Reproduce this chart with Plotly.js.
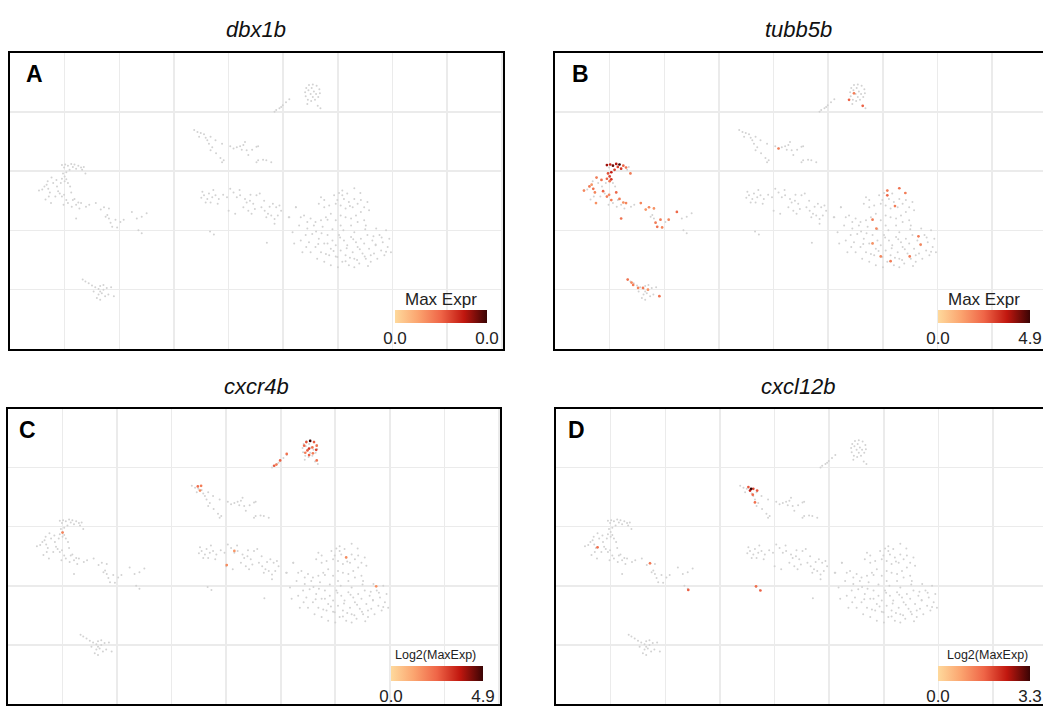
<!DOCTYPE html>
<html><head><meta charset="utf-8">
<script src="https://cdn.plot.ly/plotly-3.0.1.min.js"></script>
<style>html,body{margin:0;padding:0;overflow:hidden;background:#fff}#chart{width:1050px;height:706px}</style>
</head><body><div id="chart"></div>
<script>
// ---- cell embedding (tSNE-like coordinates) ----
const loopX = [4.0,4.2,4.7,5.4,6.1,6.6,6.7,6.4,5.8,5.1,4.5,4.1,5.0,5.6,5.2,6.0,4.6,5.4,4.4,6.3,6.8,-1.3,-0.7,-0.1,-0.4,1.1,0.5,-1.6];
const loopY = [23.3,24.0,24.5,24.6,24.4,23.8,23.1,22.5,22.0,21.8,22.0,22.6,23.0,23.4,24.0,23.0,23.6,22.5,21.3,21.0,20.6,20.3,20.6,21.1,20.8,22.1,21.6,20.0];
const streakX = [-16.3,-15.7,-15.1,-14.5,-15.4,-14.2,-13.9,-13.3,-13.6,-13.0,-13.3,-12.4,-11.2,-10.9,-11.2,-9.1,-8.5,-7.9,-7.3,-7.0,-7.6,-6.7,-6.4,-4.9,-4.6,-4.9,-4.6,-3.7,-3.1,-2.2,-12.3,-11.5,-9.7,-5.7];
const streakY = [16.9,16.6,16.4,16.2,15.8,15.6,15.2,15.8,14.6,14.0,13.5,15.2,14.6,11.8,11.5,13.8,14.0,14.2,14.4,14.9,13.6,13.5,12.7,14.1,14.2,11.5,11.8,11.9,11.8,11.5,13.0,12.2,14.2,13.6];
const leftX = [-40.5,-40.1,-39.9,-39.4,-38.8,-38.5,-38.2,-37.9,-37.5,-37.0,-36.5,-36.2,-39.1,-39.7,-40.3,-40.0,-40.5,-40.0,-40.7,-39.7,-39.4,-44.7,-43.7,-43.3,-43.0,-42.7,-43.1,-42.4,-42.1,-41.5,-42.5,-42.9,-41.2,-40.9,-40.5,-40.1,-39.7,-39.4,-38.8,-38.5,-38.2,-37.9,-37.5,-37.3,-37.0,-36.1,-37.9,-35.5,-34.3,-33.4,-32.8,-31.9,-32.2,-32.5,-31.9,-31.6,-31.3,-30.7,-30.4,-29.8,-29.2,-27.7,-26.8,-25.9,-25.0,-26.5,-25.9,-44.1,-43.5,-41.7,-41.4,-40.2,-38.7,-36.8,-39.0];
const leftY = [11.0,10.6,11.1,10.9,11.2,10.7,11.1,10.4,10.9,10.6,10.7,9.6,10.2,9.8,9.6,9.1,8.7,8.3,8.0,8.6,8.0,6.7,7.4,7.7,7.0,6.4,8.3,8.9,8.0,8.5,4.6,5.7,6.6,6.2,5.7,6.0,5.1,4.6,6.4,5.1,5.3,4.3,4.7,3.7,4.6,4.0,2.0,4.3,4.6,3.5,3.9,3.7,2.6,2.3,2.0,1.3,0.6,1.8,0.5,1.4,1.8,3.1,2.0,2.3,2.9,0.0,-0.5,6.9,5.2,5.7,7.4,4.3,4.0,10.2,7.4];
const lowLeftX = [-36.2,-35.6,-35.0,-34.4,-33.8,-33.5,-32.9,-33.2,-33.8,-34.1,-33.5,-32.6,-32.0,-31.0,-34.7,-32.9,-32.3,-33.5,-36.7,-31.5];
const lowLeftY = [-8.6,-8.9,-9.3,-9.6,-9.9,-9.4,-10.0,-10.6,-10.8,-11.4,-11.7,-11.1,-10.8,-11.1,-10.3,-9.2,-9.7,-10.3,-8.3,-9.6];
const midX = [-14.5,-13.9,-13.6,-13.0,-12.4,-14.2,-13.3,-11.8,-10.3,-9.7,-9.1,-8.5,-7.9,-7.0,-6.7,-6.1,-5.5,-4.9,-4.3,-7.3,-6.4,-5.2,-4.0,-3.4,-2.8,-1.9,-1.3,-0.7,-0.4,-1.0,-1.6,-2.2,-3.1,-1.6,-10.0,-8.8,1.1,2.3,3.2,-15.0,-14.8,-12.8,-11.0,-8.0,-6.0,-3.5,-2.5,-5.8,-12.0,-13.4,-12.7,-3.0];
const midY = [5.9,5.3,6.2,5.6,5.9,4.7,4.7,5.3,5.6,7.0,6.4,5.6,5.9,5.3,4.7,5.0,4.5,5.9,6.2,3.9,3.3,3.6,3.9,3.3,2.8,4.5,3.9,4.2,3.3,2.5,1.9,2.5,2.2,1.1,3.3,2.8,2.2,3.9,2.2,5.5,6.5,6.8,6.0,6.8,6.0,5.0,4.0,2.8,4.5,-0.2,-0.7,-2.1];
const bigX = [6.9,7.5,6.5,7.5,8.4,9.3,9.9,10.5,11.1,11.4,12.0,12.7,13.0,13.6,14.2,14.8,15.4,15.7,14.2,13.3,12.4,11.4,10.5,9.6,8.7,7.8,6.9,5.9,5.0,4.4,10.8,13.0,14.1,12.2,8.1,13.6,14.8,15.1,12.4,10.5,7.2,5.6,3.8,2.3,1.0,10.8,10.2,11.7,9.6,
  3.2,4.1,4.7,5.3,5.9,6.5,6.9,7.5,8.1,8.4,8.7,9.0,9.6,9.9,10.2,10.5,10.8,11.1,11.4,11.7,12.0,12.4,12.7,13.0,13.3,13.6,13.9,14.2,14.5,14.8,15.1,15.4,15.7,16.0,16.3,16.6,16.9,17.2,17.6,17.9,18.2,18.5,18.8,19.1,19.4,19.7,6.2,7.5,8.7,13.0,8.1,11.4,9.6,14.9,16.5,16.9,5.0,4.4,2.9,1.7,2.0,3.5,
  6.0,7.0,9.0,11.0,13.0,15.0,17.0,18.0,7.8,10.0,12.2,14.0,16.0,18.8,11.6,9.2,6.4,4.2,13.5,15.5,10.4,12.8];
const bigY = [5.6,5.1,4.5,3.9,4.2,5.9,5.1,4.2,5.3,3.7,4.8,3.9,5.3,4.5,5.1,3.9,4.8,3.4,3.1,2.5,2.0,2.2,2.5,1.7,2.8,2.2,1.7,1.4,2.0,1.4,5.9,7.1,6.3,4.1,1.8,1.4,1.7,0.8,0.8,0.8,0.6,0.8,2.5,3.9,2.2,6.7,6.3,6.2,4.5,
  -1.7,-0.8,-2.0,-0.6,-2.8,-1.4,-3.7,-2.2,-0.8,-4.2,-3.1,-1.7,-2.5,-4.5,-0.8,-3.4,-5.3,-1.7,-4.2,-2.5,-5.9,-1.1,-3.7,-4.8,-2.0,-2.8,-5.6,-1.4,-3.9,-2.2,-4.8,-0.8,-3.1,-5.3,-1.7,-3.9,-2.5,-4.8,-0.8,-3.4,-2.0,-4.2,0.0,-2.8,-1.4,-3.7,-4.8,-5.3,-5.9,-6.2,-2.2,-5.2,-4.4,-4.4,-1.0,-2.4,-3.7,0.3,0.8,-0.3,-2.2,-3.7,
  -0.2,-0.5,0.2,0.0,-0.3,0.2,0.3,-1.2,-4.0,-6.2,-4.6,-3.2,-4.2,-3.6,-3.0,-3.5,-2.3,-2.8,-5.0,-6.0,-1.2,-1.5];

// ---- expressing cells per gene ----
const dbx1bX = [], dbx1bY = [], dbx1bVal = [];
const tubb5bX = [4.7,3.8,6.3,-9.1,-40.5,-39.9,-39.4,-38.8,-38.5,-38.2,-37.9,-37.5,-37.0,-36.2,-39.1,-39.7,-40.3,-40.0,-40.5,-40.0,-39.7,-44.7,-43.7,-43.3,-43.0,-42.7,-42.4,-41.5,-42.5,-41.2,-40.5,-40.1,-39.7,-38.8,-38.2,-37.5,-37.0,-37.9,-34.3,-33.4,-32.8,-31.9,-31.6,-31.3,-30.4,-30.7,-29.2,-27.7,-36.7,-35.7,-34.8,-33.9,-33.0,-30.9,-36.0,10.8,13.0,14.1,10.8,12.2,8.1,8.8,8.1,11.4,9.6,14.9,16.5,16.9];
const tubb5bY = [23.1,22.0,21.0,13.8,11.0,11.1,10.9,11.2,10.7,11.1,10.4,10.9,10.6,9.6,10.2,9.8,9.6,9.1,8.7,8.3,8.6,6.7,7.4,7.7,7.0,6.4,8.9,8.5,4.6,6.6,5.7,6.0,5.1,6.4,5.3,4.7,4.6,2.0,4.6,3.5,3.9,3.7,1.3,0.6,0.5,1.8,1.8,3.1,-8.3,-9.2,-9.7,-9.7,-10.0,-11.1,-8.8,6.7,7.1,6.3,5.9,4.1,1.8,0.3,-2.2,-5.2,-4.4,-4.4,-1.0,-2.4];
const tubb5bVal = [2.0,2.5,2.5,2.0,4.0,3.5,4.5,3.8,3.0,4.9,3.2,2.5,2.2,2.0,3.0,3.6,2.8,3.0,2.5,2.2,3.2,1.8,2.0,1.5,2.2,1.8,2.0,2.2,1.6,2.5,2.0,1.8,2.0,2.4,2.0,1.6,1.8,2.2,1.8,1.5,1.8,1.6,2.0,2.2,1.8,2.0,1.8,2.4,2.2,2.0,1.8,2.0,1.6,2.2,1.8,2.0,2.2,2.0,2.4,2.0,2.0,1.8,1.6,2.0,1.8,2.0,2.0,1.8];
const cxcr4bX = [4.3,4.7,5.4,6.1,6.6,6.5,5.9,5.2,4.5,5.2,5.8,4.9,6.6,1.1,-0.1,-1.2,-0.8,-15.2,-14.6,-14.8,-40.0,-8.5,-9.9,12.0,17.5];
const cxcr4bY = [23.7,24.3,24.5,24.3,23.7,23.0,22.4,22.1,22.5,23.2,23.4,22.9,21.2,22.3,21.2,20.3,20.5,16.8,16.9,16.1,9.0,5.9,3.5,4.8,-0.1];
const cxcr4bVal = [2.4,2.8,4.9,2.6,2.2,3.0,2.0,2.5,2.0,3.2,2.2,2.6,2.2,2.2,2.5,2.6,2.0,2.3,2.0,1.7,1.9,1.5,1.7,1.7,1.6];
const cxcl12bX = [-14.5,-14.8,-13.9,-13.2,-14.0,-13.6,-14.3,-42.4,-32.8,-25.8,-13.4,-12.6];
const cxcl12bY = [16.1,16.7,16.4,16.1,15.4,14.1,16.4,6.5,3.8,-0.7,-0.1,-0.8];
const cxcl12bVal = [2.4,1.8,2.0,1.8,1.6,1.5,3.3,1.5,1.4,1.7,1.5,1.7];

const geneNames = ['dbx1b','tubb5b','cxcr4b','cxcl12b'];
const panelLetters = ['A','B','C','D'];
const scaleTitles = ['Max Expr','Max Expr','Log2(MaxExp)','Log2(MaxExp)'];
const exprX = [dbx1bX, tubb5bX, cxcr4bX, cxcl12bX];
const exprY = [dbx1bY, tubb5bY, cxcr4bY, cxcl12bY];
const exprV = [dbx1bVal, tubb5bVal, cxcr4bVal, cxcl12bVal];

const cellX = [].concat(loopX, streakX, leftX, lowLeftX, midX, bigX);
const cellY = [].concat(loopY, streakY, leftY, lowLeftY, midY, bigY);

// ---- layout geometry (pixels in a 1050 x 706 canvas) ----
const W = 1050, H = 706;
const boxes = [
  {l:10, r:503, t:53, b:349, title:[256,30], letter:[24,74], bar:[395,310,92,13], st:[441,299]},
  {l:555, r:1048, t:53, b:349, title:[798,30], letter:[570,74], bar:[938,310,92,13], st:[984,299]},
  {l:8, r:500, t:409, b:704, title:[256,386], letter:[17,430], bar:[391,666,92,15], st:[435,655]},
  {l:556, r:1049, t:409, b:704, title:[798,386], letter:[566,430], bar:[938,666,92,15], st:[987,655]}
];
const cscale = [[0,'#fed99c'],[0.25,'#fba46f'],[0.5,'#ef6547'],[0.75,'#c1170f'],[1,'#3a0404']];
const FONT = 'Liberation Sans, Arial, sans-serif';

const data = [], annotations = [];
const layout = {width:W, height:H, margin:{l:0,r:0,t:0,b:0}, paper_bgcolor:'#fff', plot_bgcolor:'#fff', showlegend:false, annotations};

geneNames.forEach((g,i) => {
  const k = i === 0 ? '' : String(i+1);
  const bx = boxes[i];
  const vmax = exprV[i].length ? Math.max(...exprV[i]) : 0;
  const cmax = vmax > 0 ? vmax : 1;
  layout['xaxis'+k] = {domain:[bx.l/W, bx.r/W], range:[-50,40.2], dtick:10, tick0:0, showgrid:true, gridcolor:'#ebebeb', gridwidth:1.6,
    zeroline:false, showticklabels:false, ticks:'', showline:true, mirror:true, linecolor:'#000', linewidth:2, anchor:'y'+k, fixedrange:true};
  layout['yaxis'+k] = {domain:[1-bx.b/H, 1-bx.t/H], range:[-20,29.9], dtick:10, tick0:0, showgrid:true, gridcolor:'#ebebeb', gridwidth:1.6,
    zeroline:false, showticklabels:false, ticks:'', showline:true, mirror:true, linecolor:'#000', linewidth:2, anchor:'x'+k, fixedrange:true};
  // all cells in grey
  data.push({type:'scatter', mode:'markers', x:cellX, y:cellY, xaxis:'x'+k, yaxis:'y'+k, hoverinfo:'skip',
    marker:{size:2, color:'#d2d2d2', line:{width:0}}});
  // expressing cells coloured; non-expressing cells carried with value 0 and opacity 0 so the scale is always drawn
  const xs = cellX.concat(exprX[i]), ys = cellY.concat(exprY[i]);
  const vs = cellX.map(() => 0).concat(exprV[i]);
  const op = cellX.map(() => 0).concat(exprV[i].map(() => 1));
  data.push({type:'scatter', mode:'markers', x:xs, y:ys, xaxis:'x'+k, yaxis:'y'+k, hoverinfo:'skip',
    marker:{size:2.7, color:vs, opacity:op, cmin:0, cmax:cmax, colorscale:cscale, line:{width:0}, showscale:true,
      colorbar:{orientation:'h', x:bx.bar[0]/W, xanchor:'left', y:1-bx.bar[1]/H, yanchor:'top', len:bx.bar[2], lenmode:'pixels',
        thickness:bx.bar[3], thicknessmode:'pixels', xpad:0, ypad:0, outlinewidth:0, ticks:'', ticklabeloverflow:'allow',
        tickvals:[0,cmax], ticktext:[(0).toFixed(1), vmax.toFixed(1)], tickfont:{family:FONT, size:17, color:'#222'}}}});
  annotations.push({xref:'paper', yref:'paper', x:bx.title[0]/W, y:1-bx.title[1]/H, xanchor:'center', yanchor:'middle', showarrow:false,
    text:'<i>'+g+'</i>', font:{family:FONT, size:22, color:'#111'}});
  annotations.push({xref:'paper', yref:'paper', x:bx.letter[0]/W, y:1-bx.letter[1]/H, xanchor:'left', yanchor:'middle', showarrow:false,
    text:'<b>'+panelLetters[i]+'</b>', font:{family:FONT, size:23, color:'#000'}});
  annotations.push({xref:'paper', yref:'paper', x:bx.st[0]/W, y:1-bx.st[1]/H, xanchor:'center', yanchor:'middle', showarrow:false,
    text:scaleTitles[i], font:{family:FONT, size:i<2?17:12.5, color:'#222'}});
});

Plotly.newPlot('chart', data, layout, {staticPlot:true, displayModeBar:false});
</script></body></html>
